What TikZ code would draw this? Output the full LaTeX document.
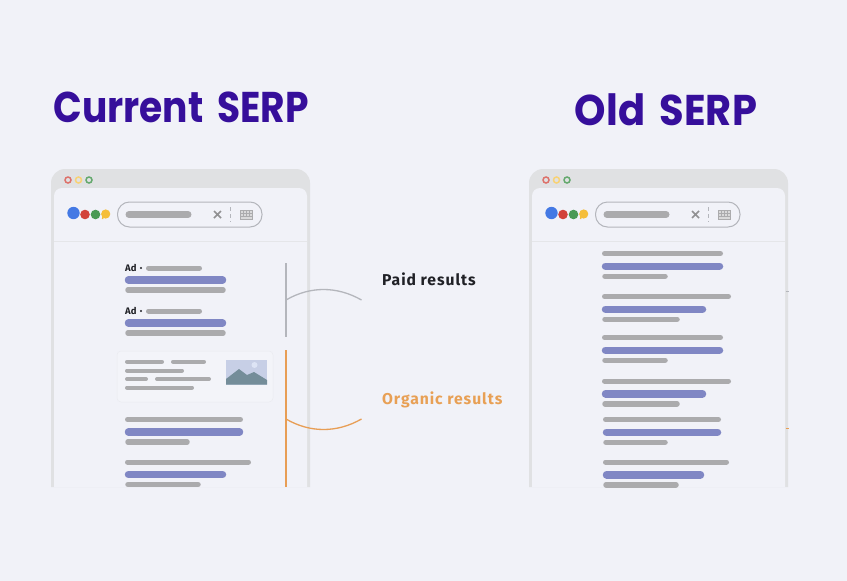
\documentclass[tikz,border=0pt]{standalone}
\usepackage{fontspec}
\setmainfont{Fira Sans}
\newfontfamily\titlefont{Poppins}
\newfontfamily\labelfont[LetterSpace=6]{Fira Sans}

\definecolor{pagebg}{HTML}{F1F2F8}
\definecolor{framegrey}{HTML}{E0E1E3}
\definecolor{bargrey}{HTML}{ABABAD}
\definecolor{barblue}{HTML}{8087C4}
\definecolor{titleblue}{HTML}{360F9B}
\definecolor{labelorange}{HTML}{E8A055}
\definecolor{labelblack}{HTML}{202126}
\definecolor{lineorange}{HTML}{E89E55}
\definecolor{linegrey}{HTML}{B4B6BC}
\definecolor{logoblue}{HTML}{4479E4}
\definecolor{logored}{HTML}{D2433A}
\definecolor{logogreen}{HTML}{4A9A55}
\definecolor{logoyellow}{HTML}{F5BE3A}
\definecolor{skyblue}{HTML}{C7CFE6}
\definecolor{sunblue}{HTML}{DDE4F5}
\definecolor{hillgrey}{HTML}{748D99}

\tikzset{
  greybar/.style = {bargrey, line width = 5.5pt, line cap = round},
  thinbar/.style = {bargrey, line width = 4pt, line cap = round},
  bluebar/.style = {barblue, line width = 7.5pt, line cap = round},
  titletext/.style = {titleblue, anchor = base, font = \titlefont\bfseries\fontsize{43}{50}\selectfont},
  labeltext/.style = {anchor = base west, font = \labelfont\bfseries\fontsize{15.7}{18}\selectfont},
  adtext/.style = {anchor = base west, labelblack, inner sep = 0pt, font = \fontsize{9.5}{10}\selectfont\bfseries},
}

% browser window with logo and search box, shifted by #1
\newcommand{\serpframe}[1]{
\begin{scope}[xshift = #1pt]
\fill[framegrey] (51,487) [rounded corners = 14pt] -- (51,169) -- (310,169) [sharp corners] -- (310,487) -- cycle;
\fill[pagebg] (54,487) [rounded corners = 8pt] -- (54,188) -- (307,188) [sharp corners] -- (307,487) -- cycle;
\draw[line width = 1.5pt, logored!75!white] (68,180) circle (3);
\draw[line width = 1.5pt, logoyellow!70!white] (78.5,180) circle (3);
\draw[line width = 1.5pt, logogreen!85!white] (89,180) circle (3);
\fill[logoblue] (73.5,213) circle (6.2);
\fill[logored] (85,214.5) circle (4.8);
\fill[logogreen] (95.5,214.5) circle (4.8);
\fill[logoyellow] (105.7,214) circle (4.6);
\draw[logoyellow, line width = 1.5pt] (103,217) -- (102.5,219);
\draw[linegrey, line width = 1pt, fill = pagebg, rounded corners = 12pt] (117.5,202) rectangle (262,227);
\draw[greybar, line width = 7pt] (129,214.5) -- (188,214.5);
\draw[bargrey!85!black, line width = 1.6pt] (214,211) -- (221,218) (221,211) -- (214,218);
\draw[linegrey, line width = .8pt, dash pattern = on 4pt off 3pt] (230,207) -- (230,222);
\draw[bargrey, line width = .8pt, fill = bargrey!45!white] (240,210.5) rectangle (252,219);
\draw[bargrey, line width = .5pt] (243,210.5) -- (243,216) (246,210.5) -- (246,216) (249,210.5) -- (249,216) (240,213) -- (252,213) (240,216) -- (252,216);
\draw[framegrey!70!pagebg, line width = .8pt] (54,241) -- (307,241);
\end{scope}
}

\begin{document}
\begin{tikzpicture}[x = 1pt, y = -1pt]
\useasboundingbox[fill = pagebg] (0,0) rectangle (847,581);

\node[titletext, xscale = .875] (currenttitle) at (181,122) {Current\hspace{.15em} SERP};
\node[titletext, xscale = .93] (oldtitle) at (666,125) {Old\hspace{.15em} SERP};

\serpframe{0}
\serpframe{478}

% current page: ads
\node[adtext] (adone) at (125,271.5) {Ad};
\node[adtext] (adtwo) at (125,314.5) {Ad};
\foreach \y in {268,311} {
  \fill[labelblack] (141,\y) circle (1.2);
  \draw[thinbar, line width = 5pt] (148.5,\y) -- (199.5,\y);
}
\foreach \y in {280,323} {
  \draw[bluebar] (128.5,\y) -- (222.5,\y);
  \draw[greybar] (128,\y+10) -- (223,\y+10);
}

% current page: card
\draw[pagebg!97!black, line width = .5pt, fill = pagebg!85!white, rounded corners = 4pt] (117,351) rectangle (273,402);
\draw[thinbar] (127,361.7) -- (162,361.7);
\draw[thinbar] (173,361.7) -- (204,361.7);
\draw[thinbar] (127,370.5) -- (182,370.5);
\draw[thinbar] (127,379) -- (146,379);
\draw[thinbar] (157,379) -- (209,379);
\draw[thinbar] (127,387.5) -- (192,387.5);
\fill[skyblue] (226,360) rectangle (267,384.5);
\fill[sunblue] (254.5,365) circle (3);
\fill[hillgrey] (226,379) -- (239,369) -- (247,375) -- (254,372) -- (267,380) -- (267,384.5) -- (226,384.5) -- cycle;

% current page: results below the card
\foreach \y/\xa/\xb/\xc in {419.5/243/243/190, 462/251/226/201} {
  \draw[greybar, line width = 5pt] (127.5,\y) -- (\xa-2.5,\y);
  \draw[bluebar] (128.5,\y+12.5) -- (\xb-3.5,\y+12.5);
  \draw[greybar] (128,\y+22.5) -- (\xc-3,\y+22.5);
}

% old page
\foreach \y/\xs/\xa/\xb/\xc in {253.5/602/723/723/668, 296.5/602/731/706/680, 337.5/602/723/723/668, 381/602/731/706/680, 419.5/603/721/721/668, 462/603/729/704/679} {
  \draw[greybar, line width = 5pt] (\xs+2.5,\y) -- (\xa-2.5,\y);
  \draw[bluebar] (\xs+3.5,\y+12.75) -- (\xb-3.5,\y+12.75);
  \draw[greybar] (\xs+3,\y+22.75) -- (\xc-3,\y+22.75);
}
\draw[linegrey, line width = 1pt] (785.5,291) -- (789,291);
\draw[lineorange, line width = 1pt] (785.5,428) -- (789,428);

% brackets and their labels
\coordinate (paidtop) at (286,263);
\coordinate (paidbot) at (286,337);
\coordinate (paidfoot) at (286,300);
\coordinate (paidend) at (361.5,300);
\coordinate (orgtop) at (286,350);
\coordinate (orgbot) at (286,487);
\coordinate (orgfoot) at (286,419);
\coordinate (orgend) at (361.5,419);
\draw[linegrey, line width = 1.5pt] (paidtop) -- (paidbot);
\draw[linegrey, line width = 1.3pt] (paidfoot) .. controls (310,286) and (337,286) .. (paidend);
\draw[lineorange, line width = 1.5pt] (orgtop) -- (orgbot);
\draw[lineorange, line width = 1.3pt] (orgfoot) .. controls (310,433) and (337,433) .. (orgend);

\node[labeltext, inner sep = 0pt, labelblack] (paidlabel) at (382,285) {Paid results};
\node[labeltext, inner sep = 0pt, labelorange] (orglabel) at (382,404) {Organic results};
\end{tikzpicture}
\end{document}
